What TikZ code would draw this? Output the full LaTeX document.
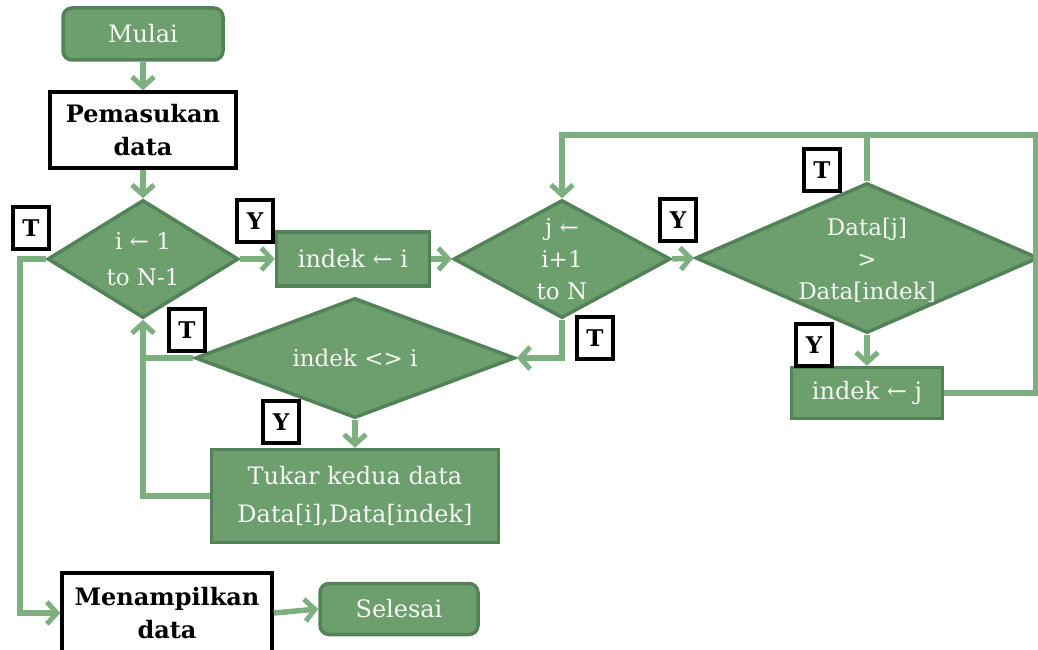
\documentclass[tikz,border=0pt]{standalone}
\usepackage{fontspec}
\setmainfont{DejaVu Serif}
\usetikzlibrary{shapes.geometric,arrows.meta}
\definecolor{gfill}{RGB}{108,158,110}
\definecolor{gdraw}{RGB}{84,130,88}
\definecolor{gline}{RGB}{125,175,128}
\definecolor{wtxt}{RGB}{245,248,242}
\tikzset{
  gbox/.style={rectangle, fill=gfill, draw=gdraw, line width=3.5pt, text=wtxt, font=\fontsize{24}{30}\selectfont, align=center, inner sep=0pt},
  rbox/.style={gbox, rounded corners=9pt},
  wbox/.style={rectangle, fill=white, draw=black, line width=3.5pt, font=\fontsize{24}{33}\selectfont\bfseries, align=center, inner sep=0pt},
  dia/.style={diamond, fill=gfill, draw=gdraw, line width=3.5pt, inner sep=0pt},
  dtxt/.style={text=wtxt, font=\fontsize{23}{32}\selectfont, align=center, inner sep=0pt},
  lab/.style={rectangle, fill=white, draw=black, line width=4pt, font=\fontsize{23}{24}\selectfont\bfseries, inner sep=0pt, minimum width=36pt, minimum height=42pt},
  conn/.style={draw=gline, line width=5.5pt},
  arr/.style={conn, -{Straight Barb[length=10pt,width=22pt,line width=5pt]}},
}
\begin{document}
\begin{tikzpicture}[x=1pt,y=-1pt]
\useasboundingbox (0,0) rectangle (1038,650);
% nodes
\node[rbox, minimum width=160pt, minimum height=52pt] (m) at (143,34) {Mulai};
\node[wbox, minimum width=186pt, minimum height=76pt] (p) at (143,130) {Pemasukan\\data};
\node[dia, minimum width=191pt, minimum height=118pt] (d1) at (143,259) {};
\node[dtxt, font=\fontsize{23}{36}\selectfont] (d1t) at (143,259) {i ← 1\\to N-1};
\node[gbox, minimum width=153pt, minimum height=54pt] (ib) at (353,259) {indek ← i};
\node[dia, minimum width=217pt, minimum height=118pt] (d2) at (562,259) {};
\node[dtxt] (d2t) at (562,259) {j ←\\i+1\\to N};
\node[dia, minimum width=343pt, minimum height=150pt] (d3) at (867,258) {};
\node[dtxt] (d3t) at (867,260) {Data[j]\\>\\Data[indek]};
\node[gbox, minimum width=151pt, minimum height=51pt] (jb) at (867,393) {indek ← j};
\node[dia, minimum width=320pt, minimum height=120pt] (d4) at (355,358) {};
\node[dtxt] (d4t) at (355,358) {indek <> i};
\node[gbox, minimum width=287pt, minimum height=93pt, font=\fontsize{24}{38}\selectfont] (tb) at (355,496) {Tukar kedua data\\Data[i],Data[indek]};
\node[wbox, minimum width=210pt, minimum height=80pt] (mb) at (167,613) {Menampilkan\\data};
\node[rbox, minimum width=158pt, minimum height=51pt] (s) at (399,609) {Selesai};
% labels
\node[lab] (t1) at (31,228) {T};
\node[lab] (y1) at (255,221) {Y};
\node[lab] (y2) at (678,220) {Y};
\node[lab] (t3) at (822,170) {T};
\node[lab] (y4) at (814,345) {Y};
\node[lab] (t5) at (595,338) {T};
\node[lab] (t6) at (187,330) {T};
\node[lab] (y7) at (281,422) {Y};
% connectors
\coordinate (cr) at (1036,135);
\coordinate (ll) at (20,259);
\draw[arr] (m.south) -- (p.north);
\draw[arr] (p.south) -- (d1.north);
\draw[arr] (d1.east) -- (ib.west);
\draw[arr] (ib.east) -- (d2.west);
\draw[arr] (d2.east) -- (d3.west);
\draw[arr] (d3.south) -- (jb.north);
\draw[conn] (d3.north) -- (d3.north |- cr);
\draw[arr] (jb.east) -| (cr) -| (d2.north);
\draw[arr] (d2.south) |- (d4.east);
\draw[conn] (d4.west) -- (d4.west -| d1.south);
\draw[arr] (tb.west) -| (d1.south);
\draw[arr] (d4.south) -- (tb.north);
\draw[arr] (d1.west) -- (ll) |- (mb.west);
\draw[arr] (mb.east) -- (s.west);
\end{tikzpicture}
\end{document}
